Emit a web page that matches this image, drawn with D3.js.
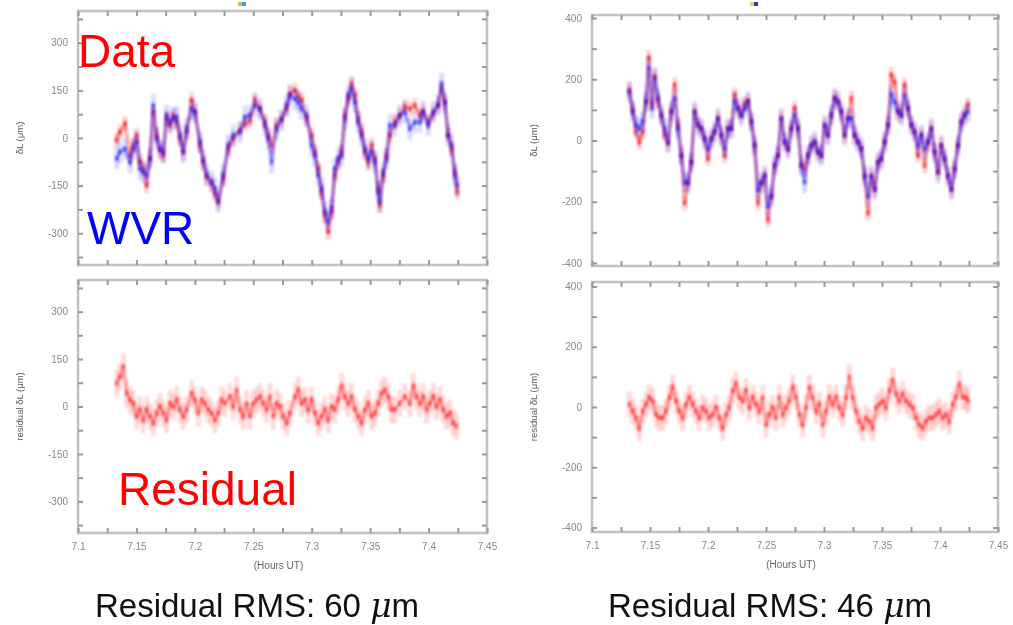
<!DOCTYPE html>
<html>
<head>
<meta charset="utf-8">
<script src="https://cdn.jsdelivr.net/npm/d3@7"></script>
<style>
  body { margin: 0; background: #fff; }
  svg { display: block; }
  text { font-family: "Liberation Sans", Arial, sans-serif; }
</style>
</head>
<body>
<svg id="chart" width="1013" height="625"></svg>
<script>
// ---------------- data ----------------
// x axis (hours UT)
const xTickValues = [7.1, 7.15, 7.2, 7.25, 7.3, 7.35, 7.4, 7.45];
const xTickLabels = ["7.1", "7.15", "7.2", "7.25", "7.3", "7.35", "7.4", "7.45"];
const xMinorTicks = [7.1, 7.125, 7.15, 7.175, 7.2, 7.225, 7.25, 7.275, 7.3, 7.325, 7.35, 7.375, 7.4, 7.425, 7.45];

// y axes (path length, µm)
const leftYTicks = [-300, -150, 0, 150, 300];
const leftYMinor = [-375, -300, -225, -150, -75, 0, 75, 150, 225, 300, 375];
const rightYTicks = [-400, -200, 0, 200, 400];
const rightYMinor = [-400, -300, -200, -100, 0, 100, 200, 300, 400];

// first scan: measured path length and WVR prediction
const scanATime = [
  7.1331, 7.1359, 7.1402, 7.1445, 7.1473, 7.1502, 7.1530, 7.1559, 7.1587, 7.1616,
  7.1644, 7.1673, 7.1701, 7.1730, 7.1758, 7.1787, 7.1816, 7.1844, 7.1873, 7.1901,
  7.1930, 7.1972, 7.2001, 7.2044, 7.2072, 7.2101, 7.2143, 7.2172, 7.2200, 7.2243,
  7.2286, 7.2329, 7.2386, 7.2429, 7.2471, 7.2514, 7.2557, 7.2600, 7.2628, 7.2657,
  7.2699, 7.2742, 7.2785, 7.2814, 7.2856, 7.2885, 7.2913, 7.2956, 7.2999, 7.3027,
  7.3056, 7.3084, 7.3113, 7.3141, 7.3170, 7.3198, 7.3227, 7.3255, 7.3284, 7.3313,
  7.3341, 7.3370, 7.3398, 7.3427, 7.3455, 7.3484, 7.3512, 7.3541, 7.3569, 7.3583,
  7.3612, 7.3640, 7.3669, 7.3712, 7.3754, 7.3797, 7.3840, 7.3883, 7.3926, 7.3954,
  7.3997, 7.4040, 7.4082, 7.4111, 7.4139, 7.4168, 7.4197, 7.4225, 7.4245
];
const scanAData = [
  -7, 19, 45, -55, -23, 8, -76, -97, -149, -65,
  82, 8, -39, -55, 61, 40, 71, 50, -2, -44,
  19, 119, 82, -23, -76, -123, -144, -175, -201, -128,
  -34, -2, 24, 45, 56, 119, 92, 50, 8, -23,
  40, 61, 92, 140, 150, 129, 119, 61, 8, -44,
  -97, -170, -243, -296, -233, -117, -76, -44, 71, 124,
  171, 134, 61, 19, -44, -76, -23, -65, -159, -212,
  -117, -55, 8, 50, 71, 98, 92, 103, 71, 82,
  50, 77, 103, 155, 113, 8, -34, -107, -170
];
const scanAWvr = [
  -65, -44, -34, -76, -34, -13, -97, -107, -117, -65,
  103, -2, -34, -44, 71, 50, 61, 66, 8, -44,
  29, 92, 82, -13, -70, -117, -138, -159, -201, -117,
  -23, 8, 19, 66, 71, 103, 92, 40, -2, -76,
  29, 56, 103, 134, 124, 113, 92, 71, -23, -55,
  -117, -159, -233, -264, -222, -97, -65, -55, 61, 134,
  155, 113, 50, 8, -34, -65, -44, -76, -170, -201,
  -107, -65, 40, 40, 71, 82, 29, 50, 50, 82,
  40, 82, 103, 171, 113, 8, -23, -117, -149
];
const scanAResTime = [
  7.1331, 7.1359, 7.1388, 7.1416, 7.1445, 7.1473, 7.1502, 7.1530, 7.1559, 7.1587,
  7.1616, 7.1644, 7.1673, 7.1701, 7.1730, 7.1758, 7.1787, 7.1816, 7.1844, 7.1873,
  7.1901, 7.1930, 7.1972, 7.2001, 7.2029, 7.2058, 7.2086, 7.2115, 7.2143, 7.2172,
  7.2200, 7.2229, 7.2257, 7.2300, 7.2329, 7.2357, 7.2386, 7.2414, 7.2443, 7.2471,
  7.2500, 7.2528, 7.2557, 7.2585, 7.2614, 7.2642, 7.2671, 7.2699, 7.2728, 7.2756,
  7.2785, 7.2814, 7.2856, 7.2885, 7.2913, 7.2942, 7.2970, 7.2999, 7.3027, 7.3056,
  7.3084, 7.3113, 7.3141, 7.3170, 7.3198, 7.3227, 7.3255, 7.3284, 7.3313, 7.3341,
  7.3370, 7.3398, 7.3427, 7.3455, 7.3484, 7.3512, 7.3541, 7.3569, 7.3598, 7.3626,
  7.3655, 7.3683, 7.3712, 7.3754, 7.3797, 7.3840, 7.3869, 7.3897, 7.3926, 7.3954,
  7.3983, 7.4011, 7.4040, 7.4068, 7.4097, 7.4125, 7.4154, 7.4182, 7.4211, 7.4239
];
const scanAResidual = [
  73, 94, 126, 42, 21, 10, -31, -10, -42, -10,
  -31, -52, -21, 0, -21, -42, 10, 0, 21, -10,
  -31, -10, 42, 21, -21, 21, 10, -10, -21, -42,
  -21, 21, 10, 31, 0, 52, -10, -31, 10, -31,
  10, 21, 31, 10, -10, 31, -31, 10, 0, -31,
  -52, -21, 31, 52, 10, 21, -10, 21, -21, -52,
  -31, -10, -42, 0, -10, 21, 63, 31, 10, 31,
  -10, -31, -52, -10, 10, -31, -21, 10, 42, 52,
  31, -10, -10, 10, 31, 10, 63, 31, 10, 31,
  -10, 10, 31, 0, 21, -10, -31, -21, -52, -63
];

// second scan
const scanBTime = [
  7.1322, 7.1351, 7.1379, 7.1408, 7.1437, 7.1466, 7.1489, 7.1517, 7.1540, 7.1569,
  7.1598, 7.1626, 7.1655, 7.1684, 7.1713, 7.1741, 7.1770, 7.1799, 7.1828, 7.1856,
  7.1885, 7.1914, 7.1943, 7.1971, 7.2000, 7.2029, 7.2057, 7.2086, 7.2115, 7.2144,
  7.2172, 7.2201, 7.2230, 7.2259, 7.2287, 7.2316, 7.2345, 7.2374, 7.2402, 7.2431,
  7.2460, 7.2489, 7.2517, 7.2546, 7.2575, 7.2603, 7.2632, 7.2661, 7.2690, 7.2718,
  7.2747, 7.2776, 7.2805, 7.2833, 7.2862, 7.2891, 7.2920, 7.2948, 7.2977, 7.3006,
  7.3034, 7.3063, 7.3092, 7.3121, 7.3149, 7.3178, 7.3207, 7.3236, 7.3264, 7.3293,
  7.3322, 7.3351, 7.3379, 7.3408, 7.3437, 7.3466, 7.3494, 7.3523, 7.3552, 7.3580,
  7.3609, 7.3638, 7.3667, 7.3695, 7.3724, 7.3753, 7.3782, 7.3810, 7.3839, 7.3868,
  7.3897, 7.3925, 7.3954, 7.3983, 7.4011, 7.4040, 7.4069, 7.4098, 7.4126, 7.4155,
  7.4184, 7.4213, 7.4241
];
const scanBData = [
  165, 100, 30, -5, 28, 127, 271, 120, 210, 130,
  80, 20, -8, 94, 182, 50, -49, -204, -138, -71,
  94, 50, 39, 6, -60, 6, 28, 72, 17, -49,
  39, 39, 149, 105, 83, 120, 127, 61, -16, -204,
  -138, -116, -259, -182, -82, -49, 72, -5, -27, 39,
  105, 39, -82, -93, -49, -16, -5, -38, -49, 50,
  17, 83, 138, 127, 94, 17, 72, 138, 17, -5,
  -27, -116, -237, -116, -160, -71, -60, -5, 50, 215,
  190, 94, 83, 182, 105, 50, 28, -49, 17, -82,
  -5, 39, -38, -104, -16, -60, -116, -160, -93, -16,
  61, 83, 116
];
const scanBWvr = [
  160, 94, 50, 39, 61, 127, 238, 105, 205, 138,
  83, 39, -8, 94, 138, 39, -49, -138, -138, -71,
  94, 50, 39, 6, -27, 6, 28, 72, 17, -27,
  39, 39, 127, 105, 83, 105, 127, 61, -16, -160,
  -138, -116, -215, -182, -82, -49, 72, -5, -27, 39,
  83, 39, -82, -137, -49, -16, -5, -38, -49, 50,
  17, 83, 138, 127, 94, 17, 72, 72, 17, -5,
  -27, -116, -182, -116, -160, -71, -60, -5, 50, 149,
  127, 94, 83, 149, 105, 50, 28, -16, 17, -27,
  -5, 39, -38, -104, -16, -60, -116, -160, -93, -16,
  61, 83, 94
];
const scanBResTime = [
  7.1322, 7.1351, 7.1379, 7.1408, 7.1437, 7.1466, 7.1494, 7.1523, 7.1552, 7.1580,
  7.1609, 7.1638, 7.1667, 7.1695, 7.1724, 7.1753, 7.1782, 7.1810, 7.1839, 7.1868,
  7.1897, 7.1925, 7.1954, 7.1983, 7.2011, 7.2040, 7.2069, 7.2098, 7.2126, 7.2155,
  7.2184, 7.2213, 7.2241, 7.2270, 7.2299, 7.2328, 7.2356, 7.2385, 7.2414, 7.2443,
  7.2471, 7.2500, 7.2529, 7.2557, 7.2586, 7.2615, 7.2644, 7.2672, 7.2701, 7.2730,
  7.2759, 7.2787, 7.2816, 7.2845, 7.2874, 7.2902, 7.2931, 7.2960, 7.2989, 7.3017,
  7.3046, 7.3075, 7.3103, 7.3132, 7.3161, 7.3190, 7.3218, 7.3247, 7.3276, 7.3305,
  7.3333, 7.3362, 7.3391, 7.3420, 7.3448, 7.3477, 7.3506, 7.3534, 7.3563, 7.3592,
  7.3621, 7.3649, 7.3678, 7.3707, 7.3736, 7.3764, 7.3793, 7.3822, 7.3851, 7.3879,
  7.3908, 7.3937, 7.3966, 7.3994, 7.4023, 7.4052, 7.4080, 7.4109, 7.4138, 7.4167,
  7.4195, 7.4224, 7.4241
];
const scanBResidual = [
  9, -14, -36, -70, -14, 9, 32, 20, -25, -36,
  -36, -14, 32, 66, 20, -14, -36, 9, 32, 9,
  -14, -36, -2, -14, -36, -25, -2, -36, -70, -25,
  -2, 54, 77, 32, 20, 54, -2, 32, 9, -14,
  32, -59, -25, -2, -36, 32, -25, -2, 20, 66,
  32, -25, -59, -2, 66, 32, -14, 9, -59, -14,
  32, 9, 32, -2, -25, 32, 100, 32, -14, -48,
  -70, -36, -48, -70, -2, 9, 20, -2, 54, 88,
  43, 20, 43, 20, 9, -2, -36, -59, -70, -48,
  -36, -36, -25, -14, -36, -25, -48, 9, 32, 77,
  32, 32, 20
];

// 1-sigma uncertainties (µm)
const dataSigma = 24;
const wvrSigma = 34;
const residualSigma = 42;

// summary numbers
const rmsValues = [60, 46];

// ---------------- drawing ----------------
const svg = d3.select("#chart");
const defs = svg.append("defs");
defs.append("filter").attr("id", "soft")
  .attr("x", "-5%").attr("y", "-10%").attr("width", "110%").attr("height", "120%")
  .append("feGaussianBlur").attr("stdDeviation", 0.9);
defs.append("filter").attr("id", "softText")
  .append("feGaussianBlur").attr("stdDeviation", 0.5);

const RED = "#ff1a1a";
const BLUE = "#1a1aff";

function drawPanel(box, yDomain, yTicks, yMinor, yTitle, showXLabels) {
  const x = d3.scaleLinear().domain([7.1, 7.45]).range([box.x0, box.x1]);
  const y = d3.scaleLinear().domain(yDomain).range([box.y1, box.y0]);
  const g = svg.append("g");

  // frame
  g.append("rect")
    .attr("x", box.x0).attr("y", box.y0)
    .attr("width", box.x1 - box.x0).attr("height", box.y1 - box.y0)
    .attr("fill", "#fff").attr("stroke", "#c2c2c2").attr("stroke-width", 2.6);

  // inward tick marks on all four sides
  const tickLen = 5;
  const styleTicks = sel => {
    sel.select(".domain").remove();
    sel.selectAll(".tick line").attr("stroke", "#999").attr("stroke-width", 2);
    sel.selectAll(".tick text").remove();
  };
  g.append("g").attr("transform", `translate(0,${box.y1})`)
    .call(d3.axisBottom(x).tickValues(xMinorTicks).tickSize(-tickLen)).call(styleTicks);
  g.append("g").attr("transform", `translate(0,${box.y0})`)
    .call(d3.axisTop(x).tickValues(xMinorTicks).tickSize(-tickLen)).call(styleTicks);
  g.append("g").attr("transform", `translate(${box.x0},0)`)
    .call(d3.axisLeft(y).tickValues(yMinor).tickSize(-tickLen)).call(styleTicks);
  g.append("g").attr("transform", `translate(${box.x1},0)`)
    .call(d3.axisRight(y).tickValues(yMinor).tickSize(-tickLen)).call(styleTicks);

  // tick labels
  const labels = svg.append("g").attr("filter", "url(#softText)");
  const yl = labels.append("g").attr("transform", `translate(${box.x0},0)`)
    .call(d3.axisLeft(y).tickValues(yTicks).tickSize(0).tickPadding(10)
      .tickFormat(d => String(d)));
  yl.select(".domain").remove();
  yl.selectAll("text").attr("font-size", 10).attr("fill", "#888")
    .style("font-family", "'Liberation Sans', Arial, sans-serif");

  if (showXLabels) {
    const xl = labels.append("g").attr("transform", `translate(0,${box.y1})`)
      .call(d3.axisBottom(x).tickValues(xTickValues).tickSize(0).tickPadding(10)
        .tickFormat((d, i) => xTickLabels[i]));
    xl.select(".domain").remove();
    xl.selectAll("text").attr("font-size", 10).attr("fill", "#888")
      .style("font-family", "'Liberation Sans', Arial, sans-serif");
    labels.append("text")
      .attr("x", (box.x0 + box.x1) / 2 - 4).attr("y", box.y1 + 36)
      .attr("text-anchor", "middle").attr("font-size", 10).attr("fill", "#666")
      .text("(Hours UT)");
  }

  labels.append("text")
    .attr("transform", `translate(${box.titleX},${(box.y0 + box.y1) / 2}) rotate(-90)`)
    .attr("text-anchor", "middle").attr("font-size", 9.5).attr("fill", "#5a5a5a")
    .text(yTitle);

  return { x, y, g };
}

function drawSeries(p, times, values, sigma, color, opts) {
  const pts = times.map((t, i) => ({ t, v: values[i] }));
  const layer = p.g.append("g").attr("filter", "url(#soft)");
  layer.append("g").selectAll("line").data(pts).join("line")
    .attr("x1", d => p.x(d.t)).attr("x2", d => p.x(d.t))
    .attr("y1", d => p.y(d.v - sigma)).attr("y2", d => p.y(d.v + sigma))
    .attr("stroke", color).attr("stroke-width", 4.5).attr("stroke-opacity", opts.barOpacity);
  layer.append("path").datum(pts)
    .attr("d", d3.line().x(d => p.x(d.t)).y(d => p.y(d.v)))
    .attr("fill", "none").attr("stroke", color)
    .attr("stroke-width", 3.2).attr("stroke-opacity", opts.lineOpacity);
  layer.append("g").selectAll("rect").data(pts).join("rect")
    .attr("x", d => p.x(d.t) - 1.8).attr("y", d => p.y(d.v) - 2.5)
    .attr("width", 3.6).attr("height", 5)
    .attr("fill", color).attr("opacity", opts.dotOpacity);
}

// panel frames
const boxes = {
  aTop: { x0: 78, x1: 487, y0: 11, y1: 265, titleX: 23 },
  aBot: { x0: 78, x1: 487, y0: 280, y1: 533, titleX: 23 },
  bTop: { x0: 592, x1: 998, y0: 15, y1: 266, titleX: 537 },
  bBot: { x0: 592, x1: 998, y0: 282, y1: 532, titleX: 537 }
};

const pA = drawPanel(boxes.aTop, [-400, 400], leftYTicks, leftYMinor, "δL (μm)", false);
const pAr = drawPanel(boxes.aBot, [-400, 400], leftYTicks, leftYMinor, "residual δL (μm)", true);
const pB = drawPanel(boxes.bTop, [-410, 410], rightYTicks, rightYMinor, "δL (μm)", false);
const pBr = drawPanel(boxes.bBot, [-415, 415], rightYTicks, rightYMinor, "residual δL (μm)", true);

const dataStyle = { barOpacity: 0.22, lineOpacity: 0.4, dotOpacity: 0.7 };
const wvrStyle = { barOpacity: 0.18, lineOpacity: 0.4, dotOpacity: 0.55 };
const resStyle = { barOpacity: 0.18, lineOpacity: 0.35, dotOpacity: 0.55 };

drawSeries(pA, scanATime, scanAData, dataSigma, RED, dataStyle);
drawSeries(pA, scanATime, scanAWvr, wvrSigma, BLUE, wvrStyle);
drawSeries(pAr, scanAResTime, scanAResidual, residualSigma, RED, resStyle);
drawSeries(pB, scanBTime, scanBData, dataSigma, RED, dataStyle);
drawSeries(pB, scanBTime, scanBWvr, wvrSigma, BLUE, wvrStyle);
drawSeries(pBr, scanBResTime, scanBResidual, residualSigma, RED, resStyle);

// small plot-legend swatches above the upper panels
[[238, "#e0a030"], [242, "#1f8fe0"], [750, "#f0c060"], [754, "#0a1a8a"]].forEach(([sx, c]) => {
  svg.append("rect").attr("x", sx).attr("y", 2).attr("width", 4).attr("height", 4)
    .attr("fill", c).attr("opacity", 0.85);
});

// annotations
svg.append("text").attr("x", 78).attr("y", 67).attr("font-size", 46).attr("fill", "#ff0000").text("Data");
svg.append("text").attr("x", 87).attr("y", 244).attr("font-size", 46).attr("fill", "#0000ff").text("WVR");
svg.append("text").attr("x", 118).attr("y", 505).attr("font-size", 46).attr("fill", "#ff0000").text("Residual");

// RMS captions
[[95, rmsValues[0]], [608, rmsValues[1]]].forEach(([cx, rms]) => {
  const t = svg.append("text").attr("x", cx).attr("y", 617).attr("font-size", 33).attr("fill", "#111");
  t.append("tspan").text(`Residual RMS: ${rms} `);
  t.append("tspan").attr("font-style", "italic").style("font-family", "'DejaVu Serif', serif").text("μ");
  t.append("tspan").text("m");
});
</script>
</body>
</html>
